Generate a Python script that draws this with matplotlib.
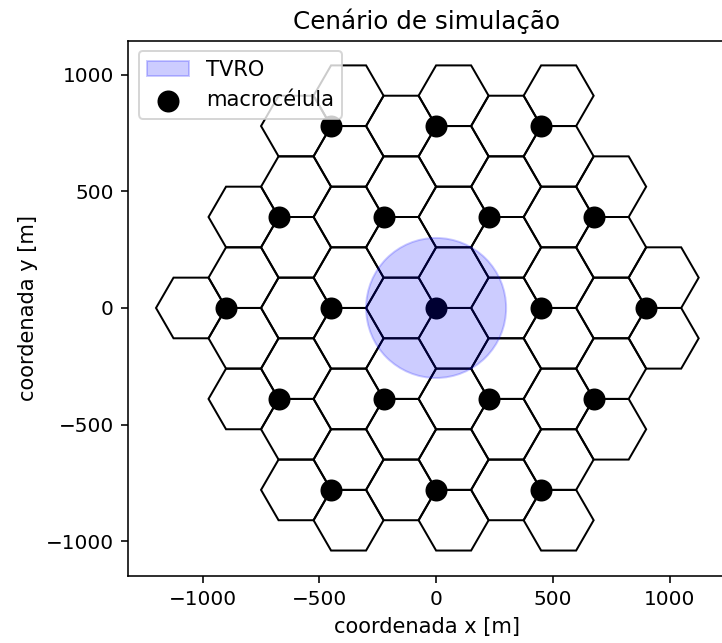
import numpy as np
import matplotlib
matplotlib.use("Agg")
import matplotlib.pyplot as plt
from matplotlib.patches import Circle, RegularPolygon

# Macrocell site coordinates [m] (19 sites, 2 tiers)
site_x = [0, 450, 225, -225, -450, -225, 225,
          900, 675, 450, 0, -450, -675, -900, -675, -450, 0, 450, 675]
site_y = [0, 0, 389.7, 389.7, 0, -389.7, -389.7,
          0, 389.7, 779.4, 779.4, 779.4, 389.7, 0, -389.7, -779.4, -779.4, -779.4, -389.7]

cell_radius = 150.0             # hexagon cell radius [m]
sector_dirs_deg = [180, 60, 300]  # direction of each sector cell from its site
tvro_x, tvro_y, tvro_r = 0.0, 0.0, 300.0

fig = plt.figure(figsize=(722 / 144, 643 / 144), dpi=144)
ax = fig.add_axes([128 / 722, 1 - 575.7 / 643, (726 - 128) / 722, 535 / 643])

for sx, sy in zip(site_x, site_y):
    for d in sector_dirs_deg:
        a = np.deg2rad(d)
        cx = sx + cell_radius * np.cos(a)
        cy = sy + cell_radius * np.sin(a)
        hexagon = RegularPolygon((cx, cy), numVertices=6, radius=cell_radius,
                                 orientation=np.pi / 6, facecolor='none',
                                 edgecolor='black', linewidth=1.0, zorder=1)
        ax.add_patch(hexagon)

ax.scatter(site_x, site_y, s=100, color='black', zorder=2, label='macrocélula')

circ = Circle((tvro_x, tvro_y), tvro_r, color='blue', alpha=0.2, zorder=3, label='TVRO')
ax.add_patch(circ)

ax.set_xlim(-1320, 1242)
ax.set_ylim(-1147, 1145)
ax.set_xticks([-1000, -500, 0, 500, 1000])
ax.set_yticks([-1000, -500, 0, 500, 1000])

ax.set_title('Cenário de simulação', fontsize=12.3)
ax.set_xlabel('coordenada x [m]', fontsize=10.5)
ax.set_ylabel('coordenada y [m]', fontsize=10.5)

handles, labels = ax.get_legend_handles_labels()
order = [labels.index('TVRO'), labels.index('macrocélula')]
ax.legend([handles[i] for i in order], [labels[i] for i in order], loc='upper left',
          fontsize=10.5)

fig.savefig('out.png', dpi=144)
